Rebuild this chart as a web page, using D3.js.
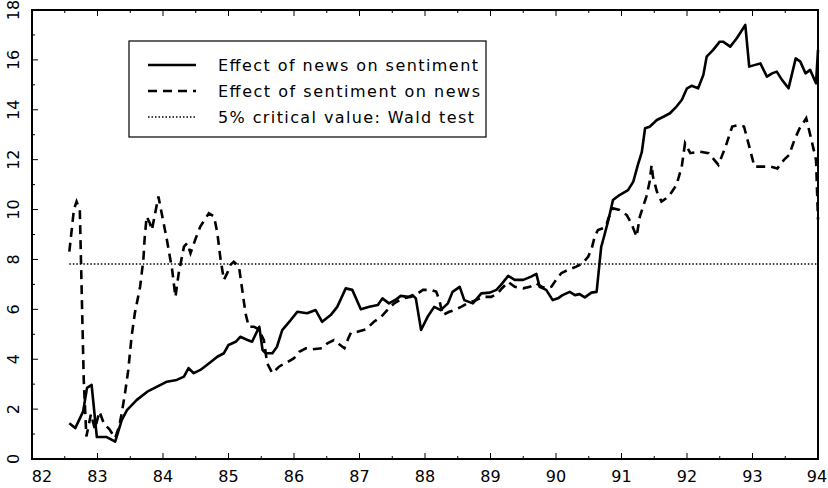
<!DOCTYPE html>
<html><head><meta charset="utf-8">
<script src="https://cdn.jsdelivr.net/npm/d3@7"></script>
<style>body{margin:0;background:#fff}svg{display:block}text{font-family:"DejaVu Sans",sans-serif;fill:#000}</style>
</head><body><svg id="c" width="828" height="488"></svg>
<script>
const xTicks = [82,83,84,85,86,87,88,89,90,91,92,93,94];
const yTicks = [0,2,4,6,8,10,12,14,16,18];
const criticalValue = 7.815;
const legendLabels = ["Effect of news on sentiment","Effect of sentiment on news","5% critical value: Wald test"];

const newsDates = [82.57,82.66,82.78,82.84,82.91,82.99,83.14,83.27,83.37,83.45,83.6,83.76,83.91,84.06,84.21,84.32,84.39,84.47,84.57,84.67,84.83,84.93,85.0,85.11,85.18,85.29,85.36,85.47,85.52,85.57,85.67,85.74,85.82,85.95,86.05,86.2,86.33,86.43,86.56,86.66,86.79,86.89,87.02,87.15,87.28,87.35,87.45,87.56,87.63,87.74,87.81,87.86,87.94,88.04,88.14,88.24,88.35,88.42,88.53,88.6,88.73,88.86,88.99,89.09,89.16,89.27,89.37,89.5,89.62,89.7,89.75,89.85,89.95,90.03,90.1,90.21,90.29,90.36,90.44,90.54,90.62,90.67,90.69,90.74,90.8,90.87,90.97,91.1,91.18,91.25,91.31,91.36,91.43,91.54,91.64,91.74,91.84,91.92,92.0,92.07,92.17,92.25,92.3,92.4,92.5,92.55,92.66,92.76,92.89,92.95,93.04,93.12,93.22,93.3,93.37,93.45,93.55,93.66,93.73,93.81,93.88,93.97,94.0];
const newsValues = [1.43,1.24,1.9,2.85,2.97,0.88,0.88,0.7,1.56,1.96,2.37,2.7,2.9,3.1,3.17,3.3,3.64,3.44,3.57,3.77,4.1,4.24,4.57,4.7,4.9,4.77,4.7,5.3,4.37,4.24,4.24,4.5,5.17,5.57,5.9,5.84,5.97,5.5,5.77,6.1,6.84,6.78,6.0,6.1,6.17,6.44,6.24,6.4,6.54,6.5,6.57,6.44,5.17,5.7,6.1,5.97,6.24,6.7,6.9,6.37,6.24,6.64,6.67,6.78,6.98,7.34,7.18,7.18,7.31,7.42,6.9,6.78,6.37,6.44,6.57,6.7,6.57,6.61,6.48,6.67,6.7,7.98,8.5,8.98,9.58,10.38,10.58,10.78,11.12,11.79,12.3,13.26,13.32,13.59,13.72,13.86,14.13,14.39,14.86,14.96,14.86,15.4,16.13,16.4,16.73,16.73,16.53,16.87,17.4,15.73,15.8,15.86,15.33,15.46,15.53,15.2,14.86,16.06,15.93,15.46,15.6,15.06,16.4];

const sentDates = [82.57,82.64,82.68,82.73,82.79,82.83,82.9,82.96,83.03,83.1,83.18,83.27,83.33,83.37,83.42,83.47,83.52,83.57,83.65,83.7,83.72,83.75,83.8,83.83,83.88,83.93,83.98,84.06,84.14,84.19,84.24,84.32,84.37,84.42,84.5,84.57,84.65,84.7,84.78,84.83,84.88,84.93,84.98,85.03,85.08,85.16,85.21,85.26,85.31,85.39,85.46,85.54,85.59,85.67,85.77,85.87,86.0,86.08,86.18,86.28,86.43,86.51,86.61,86.69,86.77,86.83,86.87,86.97,87.1,87.22,87.33,87.45,87.53,87.66,87.79,87.89,87.97,88.09,88.17,88.22,88.27,88.37,88.45,88.55,88.65,88.78,88.88,89.01,89.11,89.16,89.27,89.37,89.5,89.6,89.7,89.78,89.85,89.93,90.0,90.08,90.18,90.31,90.41,90.49,90.54,90.59,90.64,90.72,90.77,90.8,90.87,90.97,91.08,91.15,91.23,91.28,91.33,91.38,91.43,91.46,91.48,91.54,91.61,91.72,91.84,91.92,91.97,92.05,92.2,92.33,92.48,92.59,92.69,92.79,92.87,92.95,93.03,93.15,93.28,93.38,93.48,93.56,93.64,93.72,93.82,93.9,93.97,93.99,94.0];
const sentValues = [8.31,10.0,10.32,9.98,3.17,0.9,1.8,1.2,1.9,1.4,1.2,0.84,1.3,1.84,2.64,3.57,4.9,5.84,6.9,7.98,8.85,9.72,9.45,9.18,9.85,10.52,9.85,8.78,7.58,6.5,7.45,8.51,8.65,8.25,8.85,9.32,9.65,9.85,9.72,9.05,7.98,7.18,7.45,7.78,7.91,7.71,6.78,5.84,5.3,5.3,5.2,4.77,3.84,3.44,3.7,3.84,4.04,4.3,4.44,4.4,4.44,4.64,4.77,4.6,4.44,4.84,5.07,5.1,5.2,5.5,5.7,6.04,6.24,6.44,6.5,6.64,6.78,6.78,6.71,6.37,5.77,5.9,5.97,6.1,6.24,6.37,6.5,6.5,6.64,6.8,7.1,6.9,6.84,6.9,7.04,6.91,6.84,6.91,7.18,7.45,7.58,7.71,7.85,8.11,8.38,8.91,9.18,9.25,9.38,9.65,10.05,9.98,9.78,9.45,8.91,9.72,10.12,10.52,11.12,11.79,11.32,10.72,10.32,10.52,10.99,11.72,12.66,12.26,12.32,12.26,11.79,12.53,13.33,13.39,13.33,12.53,11.72,11.72,11.72,11.65,11.99,12.19,12.79,13.26,13.66,12.79,11.99,10.4,9.6];

const svg = d3.select("#c");
const L = 32, R = 818, T = 10, B = 459;
const x = d3.scaleLinear().domain([82,94]).range([L,R]);
const y = d3.scaleLinear().domain([0,18]).range([B,T]);

// ticks (inward)
const minorX = d3.range(82.5, 94, 1);
const minorY = d3.range(1, 18, 2);
const tk = svg.append("g").attr("stroke","#000").attr("stroke-width",1);
xTicks.forEach(v=>{ tk.append("line").attr("x1",x(v)).attr("x2",x(v)).attr("y1",B).attr("y2",B-6);
                    tk.append("line").attr("x1",x(v)).attr("x2",x(v)).attr("y1",T).attr("y2",T+6); });
minorX.forEach(v=>{ tk.append("line").attr("x1",x(v)).attr("x2",x(v)).attr("y1",B).attr("y2",B-3);
                    tk.append("line").attr("x1",x(v)).attr("x2",x(v)).attr("y1",T).attr("y2",T+3); });
yTicks.forEach(v=>{ tk.append("line").attr("x1",L).attr("x2",L+6).attr("y1",y(v)).attr("y2",y(v)); });
minorY.forEach(v=>{ tk.append("line").attr("x1",L).attr("x2",L+3).attr("y1",y(v)).attr("y2",y(v)); });

// frame
svg.append("rect").attr("x",L).attr("y",T).attr("width",R-L).attr("height",B-T)
  .attr("fill","none").attr("stroke","#000").attr("stroke-width",2);

// x labels
svg.append("g").selectAll("text").data(xTicks).join("text")
  .attr("x",d=> d===82 ? x(d)+10 : (d===94 ? Math.min(x(d), 817) : x(d)))
  .attr("y",482).attr("text-anchor","middle").attr("font-size",16).text(d=>d);
// y labels rotated
svg.append("g").selectAll("text").data(yTicks).join("text")
  .attr("transform",d=>`translate(19,${y(d)}) rotate(-90)`)
  .attr("text-anchor","middle").attr("font-size",16).text(d=>d);

const line = d3.line().x(d=>x(d[0])).y(d=>y(d[1]));
const news = newsDates.map((d,i)=>[d,newsValues[i]]);
const sent = sentDates.map((d,i)=>[d,sentValues[i]]);

// critical value
svg.append("path").attr("d",line([[newsDates[0],criticalValue],[94,criticalValue]]))
  .attr("fill","none").attr("stroke","#000").attr("stroke-width",1.5).attr("stroke-dasharray","1.5,2");

svg.append("path").attr("d",line(sent)).attr("fill","none").attr("stroke","#000")
  .attr("stroke-width",2.6).attr("stroke-dasharray","9,6");
svg.append("path").attr("d",line(news)).attr("fill","none").attr("stroke","#000")
  .attr("stroke-width",2.6).attr("stroke-linejoin","round");

// legend
const lg = svg.append("g");
lg.append("rect").attr("x",129).attr("y",41).attr("width",357).attr("height",96)
  .attr("fill","#fff").attr("stroke","#000").attr("stroke-width",1.2);
const rows = [65,91,117];
const styles = [{w:2.6,d:null},{w:2.6,d:"9,6"},{w:1.5,d:"1.5,2"}];
const lens = [260,262,256];
rows.forEach((ry,i)=>{
  const l = lg.append("line").attr("x1",148).attr("x2",196).attr("y1",ry).attr("y2",ry)
    .attr("stroke","#000").attr("stroke-width",styles[i].w);
  if(styles[i].d) l.attr("stroke-dasharray",styles[i].d);
  lg.append("text").attr("x",218).attr("y",ry+6).attr("font-size",16)
    .attr("textLength",lens[i]).attr("lengthAdjust","spacing").text(legendLabels[i]);
});
</script></body></html>
